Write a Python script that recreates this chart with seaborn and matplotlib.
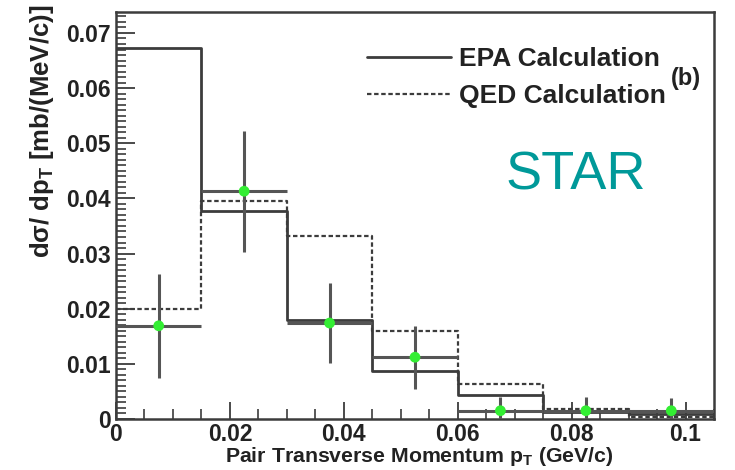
import numpy as np
import pandas as pd
import matplotlib
matplotlib.use("Agg")
import matplotlib.pyplot as plt
from matplotlib.lines import Line2D
from matplotlib.ticker import MultipleLocator, FuncFormatter
import seaborn as sns

# Pair pT binning (GeV/c)
bin_edges = [0.0, 0.015, 0.030, 0.045, 0.060, 0.075, 0.090, 0.105]
bin_centers = [0.0075, 0.0225, 0.0375, 0.0525, 0.0675, 0.0825, 0.0975]

# Model predictions, dsigma/dpT [mb/(MeV/c)]
epa_values = [0.0672, 0.0378, 0.0180, 0.0087, 0.0043, 0.0013, 0.0009]
qed_values = [0.0199, 0.0395, 0.0331, 0.0160, 0.0063, 0.0019, 0.0003]

# Measured cross section with statistical errors
data_values = [0.0169, 0.0413, 0.0174, 0.0112, 0.0015, 0.0015, 0.0015]
data_errors = [0.0094, 0.0110, 0.0073, 0.0057, 0.0025, 0.0025, 0.0023]

legend_labels = ["EPA Calculation", "QED Calculation"]

sns.set_theme(style="ticks")
plt.rcParams["font.family"] = ["Liberation Sans", "DejaVu Sans"]
plt.rcParams["font.weight"] = "bold"
plt.rcParams["mathtext.fontset"] = "custom"
for key in ("rm", "it", "bf", "sf"):
    plt.rcParams[f"mathtext.{key}"] = "Liberation Sans:bold"

line_color = "#3c3c3c"
text_color = "#222222"
df = pd.DataFrame({"pt": bin_centers, "epa": epa_values, "qed": qed_values,
                   "data": data_values, "err": data_errors})

fig = plt.figure(figsize=(7.35, 4.70), dpi=100)
ax = fig.add_axes([116 / 735, 1 - 419 / 470, (714 - 116) / 735, (419 - 12) / 470])

sns.histplot(data=df, x="pt", weights="epa", bins=bin_edges, element="step",
             fill=False, color=line_color, linewidth=2.0, ax=ax)
sns.histplot(data=df, x="pt", weights="qed", bins=bin_edges, element="step",
             fill=False, color=line_color, linewidth=1.6, linestyle=(0, (2, 1.2)), ax=ax)

half_width = [(b - a) / 2 for a, b in zip(bin_edges[:-1], bin_edges[1:])]
ax.errorbar(df["pt"], df["data"], xerr=half_width, yerr=df["err"], fmt="none",
            ecolor="#555555", elinewidth=2.2, capsize=0, zorder=3)
sns.scatterplot(data=df, x="pt", y="data", color="#33ee33", s=60,
                edgecolor="none", zorder=4, ax=ax)

ax.set_xlim(0, 0.105)
ax.set_ylim(0, 0.0738)
ax.xaxis.set_major_locator(MultipleLocator(0.02))
ax.xaxis.set_minor_locator(MultipleLocator(0.005))
ax.yaxis.set_major_locator(MultipleLocator(0.01))
ax.yaxis.set_minor_locator(MultipleLocator(0.001))
ax.xaxis.set_major_formatter(FuncFormatter(lambda v, p: f"{v:g}"))
ax.yaxis.set_major_formatter(FuncFormatter(lambda v, p: f"{v:g}"))

ax.tick_params(axis="both", which="major", direction="in", length=14, width=1.3,
               color=line_color, labelsize=16.5, pad=4, labelcolor=text_color)
ax.tick_params(axis="both", which="minor", direction="in", length=7, width=1.2,
               color=line_color)
ax.tick_params(axis="x", which="major", length=12, pad=3)
for spine in ax.spines.values():
    spine.set_visible(True)
    spine.set_color(line_color)
    spine.set_linewidth(1.8)
for lbl in ax.get_xticklabels() + ax.get_yticklabels():
    lbl.set_fontweight("bold")

ax.set_xlabel(r"Pair Transverse Momentum p$_{\mathrm{T}}$ (GeV/c)",
              fontsize=15.3, fontweight="bold", color=text_color)
ax.xaxis.set_label_coords(0.508, -0.063)
ax.set_ylabel(r"dσ/ dp$_{\mathrm{T}}$ [mb/(MeV/c)]",
              fontsize=18.5, fontweight="bold", color=text_color)
ax.yaxis.set_label_coords(-0.100, 0.708)

handles = [Line2D([], [], color=line_color, lw=2.0),
           Line2D([], [], color=line_color, lw=1.6, ls=(0, (2, 1.2)))]
fig.legend(handles, legend_labels, loc="upper left",
           bbox_to_anchor=(367 / 735, 1 - 47 / 470), frameon=False,
           prop={"weight": "bold", "size": 19},
           handlelength=3.2, handletextpad=0.27, labelspacing=0.49,
           borderpad=0, borderaxespad=0, labelcolor=text_color)
fig.text(671 / 735, 1 - 79 / 470, "(b)", fontsize=17, fontweight="bold",
         color=text_color, ha="left", va="center")
fig.text(506 / 735, 1 - 176 / 470, "STAR", fontsize=39, fontweight="normal",
         color="#009999", ha="left", va="center")

fig.savefig("out.png", dpi=100)
